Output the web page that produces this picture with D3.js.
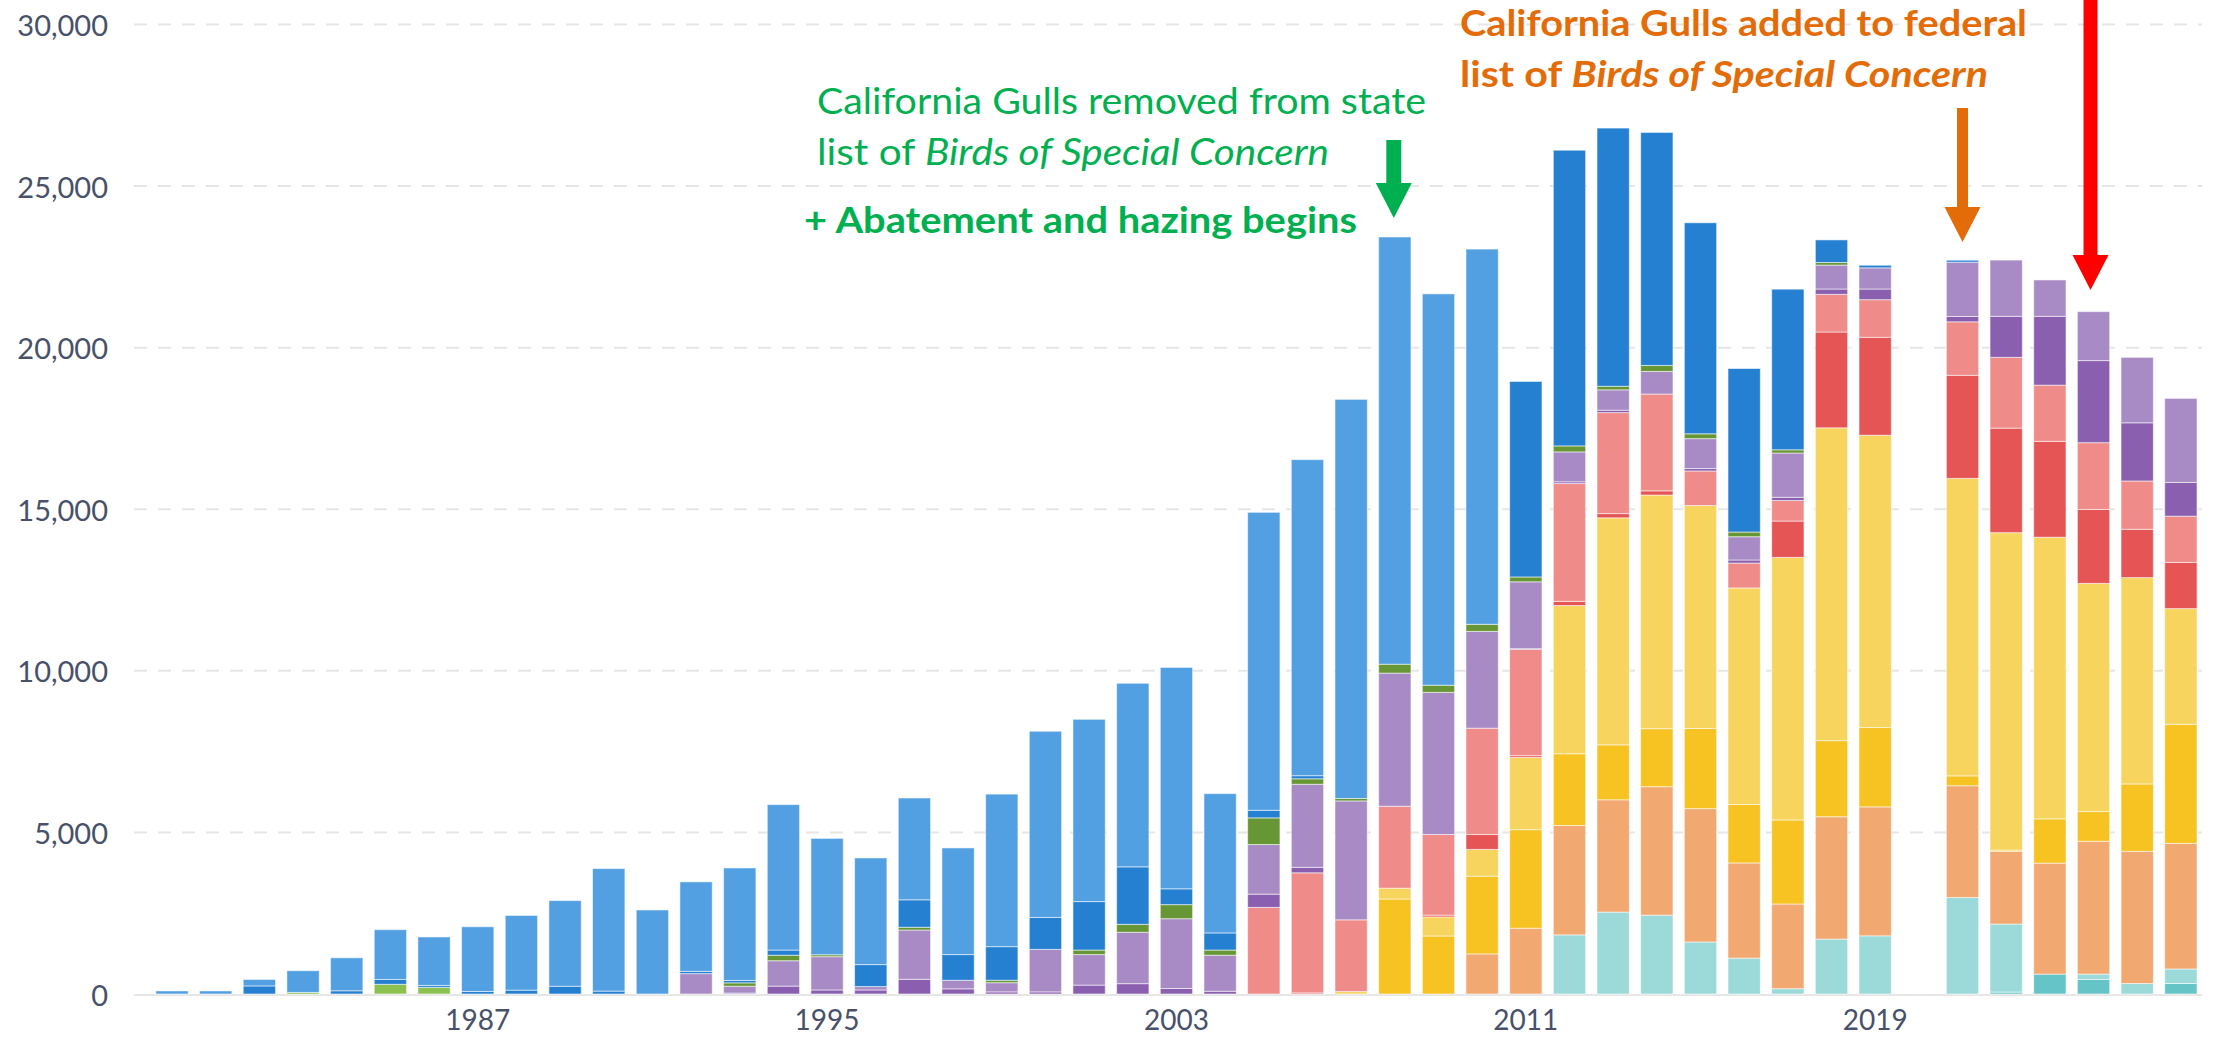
<!DOCTYPE html>
<html>
<head>
<meta charset="utf-8">
<script src="https://cdn.jsdelivr.net/npm/d3@7"></script>
<style>
  body { margin: 0; background: #fff; }
  svg { display: block; }
</style>
</head>
<body>
<svg id="chart" width="2215" height="1037"></svg>
<script>
// years on the category axis (2020 has no survey)
const years = d3.range(1980, 2027).map(String);
const labelYears = ['1987', '1995', '2003', '2011', '2019'];
const yTicks = [0, 5000, 10000, 15000, 20000, 25000, 30000];

// series, bottom of the stack first. one value per year 1980..2026
//                1980 ...                                        1989
const darkTeal   = [0,0,0,0,0,0,0,0,0,0,
                    0,0,0,0,0,0,0,0,0,0,
                    0,0,0,0,0,0,0,0,0,0,
                    0,0,0,0,0,0,0,0,0,0,
                    0,0,60,615,450,0,325];
const lightTeal  = [0,0,0,0,0,0,0,0,0,0,
                    0,0,0,0,0,0,0,0,0,0,
                    0,0,0,0,0,0,0,0,0,0,
                    0,0,1830,2535,2440,1610,1110,165,1700,1800,
                    0,2985,2105,0,165,325,450];
const peach      = [0,0,0,0,0,0,0,0,0,0,
                    0,0,0,0,0,0,0,0,0,0,
                    0,0,0,0,0,0,0,0,0,0,
                    1240,2035,3385,3475,3975,4125,2945,2620,3785,3990,
                    0,3460,2250,3435,4110,4090,3885];
const gold       = [0,0,0,0,0,0,0,0,0,0,
                    0,0,0,0,0,0,0,0,0,0,
                    0,0,0,0,0,0,0,0,2940,1795,
                    2405,3050,2220,1700,1795,2480,1810,2600,2355,2455,
                    0,305,40,1370,920,2085,3685];
const lightYellow= [0,0,0,0,0,0,0,0,0,0,
                    0,0,0,0,0,0,0,0,0,0,
                    0,0,0,0,0,0,0,75,335,590,
                    830,2235,4585,7025,7230,6900,6700,8125,9680,9045,
                    0,9205,9820,8715,7060,6385,3580];
const red        = [0,0,0,0,0,0,0,0,0,0,
                    0,0,0,0,0,0,0,0,0,0,
                    0,0,0,0,0,0,35,0,0,55,
                    460,55,130,130,130,0,0,1125,2965,3030,
                    0,3190,3235,2965,2290,1495,1430];
const pink       = [0,0,0,0,0,0,0,0,0,0,
                    0,0,0,0,0,0,0,0,0,0,
                    0,0,0,0,0,2680,3715,2220,2535,2495,
                    3290,3290,3645,3125,2995,1070,770,635,1165,1165,
                    0,1655,2190,1740,2065,1495,1430];
const darkPurple = [0,0,0,0,0,0,0,0,0,0,
                    0,0,0,30,245,125,125,455,160,65,
                    65,275,320,170,85,410,170,0,0,0,
                    0,20,55,75,0,75,95,100,165,330,
                    0,165,1270,2130,2540,1800,1045];
const lightPurple= [0,0,0,0,0,0,0,0,0,0,
                    0,0,630,210,785,1030,105,1525,265,285,
                    1315,945,1590,2160,1115,1535,2570,3680,4120,4400,
                    2995,2070,925,630,700,925,720,1370,740,655,
                    0,1680,1740,1125,1515,2025,2600];
const lightGreen = [0,0,0,50,0,300,205,0,0,0,
                    0,0,0,0,0,0,0,0,0,0,
                    0,0,0,0,0,0,0,0,0,0,
                    0,0,0,0,0,0,0,0,0,0,
                    0,0,0,0,0,0,0];
const darkGreen  = [0,0,0,0,0,0,0,0,0,0,
                    0,0,0,105,170,60,0,85,0,75,
                    0,140,245,435,160,825,170,75,275,220,
                    220,150,185,110,185,150,145,100,80,0,
                    0,0,0,0,0,0,0];
const darkBlue   = [0,0,250,0,100,150,60,80,120,240,
                    90,0,70,75,160,0,680,850,795,1040,
                    990,1500,1780,490,530,235,95,0,0,0,
                    0,6050,9150,7990,7210,6530,5060,4970,700,80,
                    0,60,0,0,0,0,0];
const lightBlue  = [95,95,200,670,1020,1540,1500,2000,2310,2650,
                    3790,2600,2770,3480,4500,3600,3300,3150,3300,4720,
                    5760,5640,5680,6850,4310,9220,9780,12350,13220,12110,
                    11610,0,0,0,0,0,0,0,0,0,
                    0,0,0,0,0,0,0];

const seriesKeys = ['darkTeal','lightTeal','peach','gold','lightYellow','red','pink',
  'darkPurple','lightPurple','lightGreen','darkGreen','darkBlue','lightBlue'];
const seriesValues = [darkTeal, lightTeal, peach, gold, lightYellow, red, pink,
  darkPurple, lightPurple, lightGreen, darkGreen, darkBlue, lightBlue];
const seriesColors = ['#65c5c6','#9bdad9','#f1a871','#f6c323','#f7d45d','#e55556','#ef8b88',
  '#8a5fb0','#a88bc5','#8cc150','#679635','#2680d1','#529fe2'];

// table for d3.stack
let table = years.map((yr, i) => {
  let row = {year: yr};
  seriesKeys.forEach((k, j) => { row[k] = seriesValues[j][i]; });
  return row;
});

let svg = d3.select('#chart');

let x = d3.scaleBand()
  .domain(years)
  .range([150.2, 2202.7])
  .paddingInner(0.26)
  .paddingOuter(0.13);

let y = d3.scaleLinear()
  .domain([0, 30000])
  .range([994, 24.5]);

//网格线
svg.append('g')
  .selectAll('line')
  .data(yTicks.filter(d => d > 0))
  .join('line')
  .attr('x1', 134)
  .attr('x2', 2202)
  .attr('y1', d => y(d))
  .attr('y2', d => y(d))
  .attr('stroke', '#e6e6e6')
  .attr('stroke-width', 2)
  .attr('stroke-dasharray', '13,11');

svg.append('line')
  .attr('x1', 134).attr('x2', 2202)
  .attr('y1', y(0) + 1).attr('y2', y(0) + 1)
  .attr('stroke', '#e6e6e6')
  .attr('stroke-width', 2);

// stacked bars
let stacked = d3.stack().keys(seriesKeys)(table);

svg.append('g')
  .selectAll('g')
  .data(stacked)
  .join('g')
  .attr('fill', (d, i) => seriesColors[i])
  .selectAll('rect')
  .data(d => d.filter(p => p[1] - p[0] > 0))
  .join('rect')
  .attr('x', d => x(d.data.year))
  .attr('width', x.bandwidth())
  .attr('y', d => y(d[1]))
  .attr('height', d => y(d[0]) - y(d[1]))
  .attr('stroke', '#fff')
  .attr('stroke-opacity', 0.55)
  .attr('stroke-width', 1);

// axes
let yAxis = svg.append('g')
  .attr('transform', 'translate(108,0)')
  .call(d3.axisLeft(y).tickValues(yTicks).tickFormat(d3.format(',')).tickSize(0).tickPadding(0));
yAxis.select('.domain').remove();
yAxis.selectAll('text').attr('dy', '0.38em');

let xAxis = svg.append('g')
  .attr('transform', `translate(0,${y(0)})`)
  .call(d3.axisBottom(x).tickValues(labelYears).tickSize(0).tickPadding(16.5));
xAxis.select('.domain').remove();

svg.selectAll('.tick text')
  .attr('font-family', 'Lato, sans-serif')
  .attr('font-size', 29)
  .attr('fill', '#475169');
xAxis.selectAll('text').attr('font-size', 28);

// annotations
function note(xPos, yPos, parts, opts) {
  let t = svg.append('text')
    .attr('x', xPos)
    .attr('y', yPos)
    .attr('font-family', 'Lato, sans-serif')
    .attr('font-size', opts.size)
    .attr('font-weight', opts.bold ? 700 : 400)
    .attr('fill', opts.color)
    .attr('textLength', opts.width)
    .attr('lengthAdjust', 'spacingAndGlyphs');
  parts.forEach(p => {
    t.append('tspan')
      .attr('font-style', p.italic ? 'italic' : 'normal')
      .text(p.text);
  });
}

function arrow(cx, top, headTop, tip, shaftW, headW, color) {
  let p = d3.path();
  p.moveTo(cx - shaftW / 2, top);
  p.lineTo(cx + shaftW / 2, top);
  p.lineTo(cx + shaftW / 2, headTop);
  p.lineTo(cx + headW / 2, headTop);
  p.lineTo(cx, tip);
  p.lineTo(cx - headW / 2, headTop);
  p.lineTo(cx - shaftW / 2, headTop);
  p.closePath();
  svg.append('path').attr('d', p.toString()).attr('fill', color);
}

let center = yr => x(yr) + x.bandwidth() / 2;

const green = '#00b050', orange = '#e36c09';

note(817, 114, [{text: 'California Gulls removed from state'}],
  {size: 36, color: green, width: 609});
note(817, 165, [{text: 'list of '}, {text: 'Birds of Special Concern', italic: true}],
  {size: 36, color: green, width: 512});
note(804, 233, [{text: '+ Abatement and hazing begins'}],
  {size: 37, color: green, width: 553, bold: true});
arrow(center('2008') - 1, 140, 183, 218, 15, 36, green);

note(1460, 36, [{text: 'California Gulls added to federal'}],
  {size: 36, color: orange, width: 567, bold: true});
note(1460, 87, [{text: 'list of '}, {text: 'Birds of Special Concern', italic: true}],
  {size: 36, color: orange, width: 528, bold: true});
arrow(center('2021'), 108, 207, 242, 11, 36, orange);

arrow(center('2024') - 3, 0, 255, 290, 14, 36, '#ff0000');
</script>
</body>
</html>
